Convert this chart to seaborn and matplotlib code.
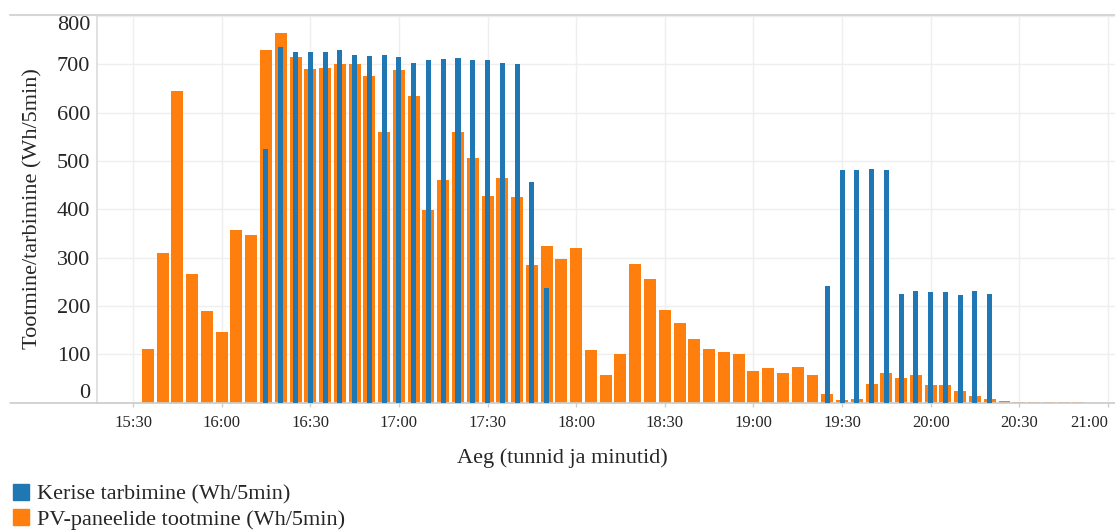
import numpy as np
import pandas as pd
import seaborn as sns
import matplotlib.pyplot as plt
from matplotlib.lines import Line2D
from matplotlib.patches import Patch

# 5-minute slots
times = ["15:35", "15:40", "15:45", "15:50", "15:55", "16:00", "16:05", "16:10",
         "16:15", "16:20", "16:25", "16:30", "16:35", "16:40", "16:45", "16:50",
         "16:55", "17:00", "17:05", "17:10", "17:15", "17:20", "17:25", "17:30",
         "17:35", "17:40", "17:45", "17:50", "17:55", "18:00", "18:05", "18:10",
         "18:15", "18:20", "18:25", "18:30", "18:35", "18:40", "18:45", "18:50",
         "18:55", "19:00", "19:05", "19:10", "19:15", "19:20", "19:25", "19:30",
         "19:35", "19:40", "19:45", "19:50", "19:55", "20:00", "20:05", "20:10",
         "20:15", "20:20", "20:25", "20:30", "20:35", "20:40", "20:45", "20:50"]

pv_tootmine = [111, 309, 645, 266, 190, 146, 357, 347,
               730, 765, 715, 690, 692, 700, 700, 676,
               560, 688, 634, 398, 460, 560, 506, 427,
               464, 425, 285, 324, 297, 320, 109, 57,
               100, 287, 256, 192, 165, 132, 111, 105,
               100, 65, 72, 61, 74, 57, 18, 5,
               7, 38, 61, 51, 57, 36, 36, 24,
               14, 7, 3, 1.5, 1, 1, 1, 1]

kerise_tarbimine = [0, 0, 0, 0, 0, 0, 0, 0,
                    525, 736, 725, 725, 725, 730, 719, 717,
                    719, 715, 703, 709, 711, 713, 709, 709,
                    703, 700, 456, 237, 0, 0, 0, 0,
                    0, 0, 0, 0, 0, 0, 0, 0,
                    0, 0, 0, 0, 0, 0, 241, 481,
                    481, 483, 481, 225, 231, 229, 229, 223,
                    231, 225, 0, 0, 0, 0, 0, 0]

tick_labels = ["15:30", "16:00", "16:30", "17:00", "17:30", "18:00",
               "18:30", "19:00", "19:30", "20:00", "20:30", "21:00"]
y_ticks = [0, 100, 200, 300, 400, 500, 600, 700, 800]


def to_min(t):
    h, m = t.split(":")
    return int(h) * 60 + int(m)


df = pd.DataFrame({
    "aeg": [to_min(t) for t in times],
    "pv": pv_tootmine,
    "keris": kerise_tarbimine,
})

sns.set_theme(style="white")
plt.rcParams["font.family"] = ["Liberation Serif", "DejaVu Serif"]

blue = "#1f77b4"
orange = "#ff7f0e"

fig = plt.figure(figsize=(11.15, 5.31), dpi=100)
ax = fig.add_axes([97 / 1115, 1 - 402.6 / 531, 1018 / 1115, 387.6 / 531])

sns.barplot(data=df, x="aeg", y="pv", native_scale=True, width=0.81,
            color=orange, saturation=1, errorbar=None, linewidth=0,
            ax=ax, zorder=2)
sns.barplot(data=df, x="aeg", y="keris", native_scale=True, width=0.34,
            color=blue, saturation=1, errorbar=None, linewidth=0,
            ax=ax, zorder=3)

ax.set_xlim(917.8, 1262.4)
ax.set_ylim(0, 802)

ax.set_xticks([to_min(t) for t in tick_labels], labels=tick_labels)
ax.set_yticks(y_ticks, labels=[str(v) for v in y_ticks])
ax.tick_params(axis="x", labelsize=12, length=3, width=1, color="#cccccc",
               pad=6, bottom=True)
ax.tick_params(axis="y", labelsize=16, length=0, pad=5)
for lab in ax.get_yticklabels():
    if lab.get_text() == "0":
        lab.set_verticalalignment("bottom")
    elif lab.get_text() == "800":
        lab.set_verticalalignment("top")
ax.get_xticklabels()[-1].set_horizontalalignment("right")

ax.grid(True, color="#efefef", linewidth=1)
ax.set_axisbelow(True)

ax.spines["right"].set_visible(False)
ax.spines["left"].set_color("#dddddd")
ax.spines["top"].set_color("#d6d6d6")
ax.spines["top"].set_linewidth(1.5)
ax.spines["bottom"].set_color("#cccccc")
ax.spines["bottom"].set_linestyle((0, (1, 1)))

# frame lines reaching to the left edge
fig.add_artist(Line2D([10 / 1115, 97 / 1115], [1 - 15 / 531, 1 - 15 / 531],
                      color="#d6d6d6", linewidth=1.5))
fig.add_artist(Line2D([10 / 1115, 97 / 1115], [1 - 402.6 / 531, 1 - 402.6 / 531],
                      color="#cccccc", linewidth=1.2))

ax.set_xlabel("Aeg (tunnid ja minutid)", fontsize=16)
ax.xaxis.set_label_coords(0.457, -0.118)
ax.set_ylabel("Tootmine/tarbimine (Wh/5min)", fontsize=16)
ax.yaxis.set_label_coords(-0.054, 0.5)

handles = [Patch(color=blue, label="Kerise tarbimine (Wh/5min)"),
           Patch(color=orange, label="PV-paneelide tootmine (Wh/5min)")]
fig.legend(handles=handles, loc="lower left", bbox_to_anchor=(0.004, -0.014),
           frameon=False, fontsize=16, handlelength=0.7, handleheight=0.7,
           handletextpad=0.35, labelspacing=0.2, borderaxespad=0)

fig.savefig("out.png", dpi=100)
